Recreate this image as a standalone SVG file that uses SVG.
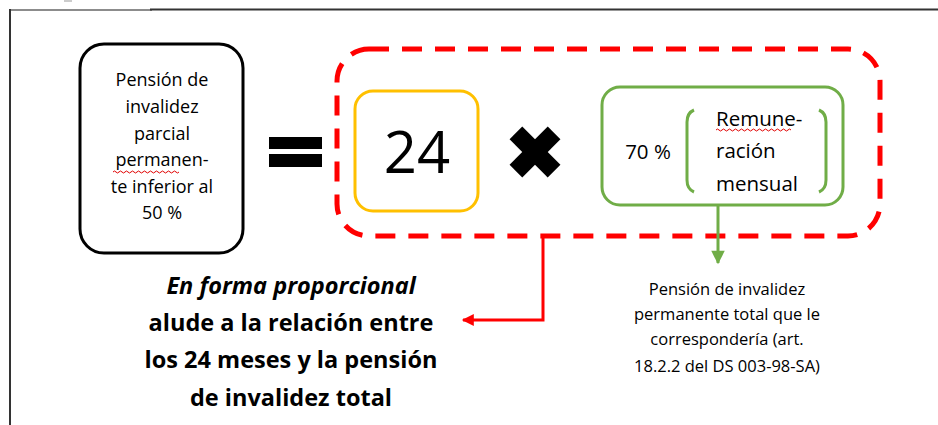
<svg xmlns="http://www.w3.org/2000/svg" width="938" height="425" viewBox="0 0 938 425">
<defs>
<style>
.t{font-family:"Open Sans","Liberation Sans",sans-serif;fill:#000;text-anchor:middle}
.s{font-size:18px}
.g{font-size:16.5px}
.b{font-size:23.5px;font-weight:bold}
.r{font-size:20.5px;text-anchor:start}
.sq{fill:none;stroke:#e00000;stroke-width:1}
</style>
<marker id="ar" viewBox="0 0 10 10" refX="9" refY="5" markerWidth="5" markerHeight="4" orient="auto" markerUnits="strokeWidth"><path d="M0,0L10,5L0,10z" fill="#ff0000"/></marker>
<marker id="ag" viewBox="0 0 10 10" refX="9" refY="5" markerWidth="5" markerHeight="4.5" orient="auto" markerUnits="strokeWidth"><path d="M0,0L10,5L0,10z" fill="#70ad47"/></marker>
</defs>
<rect width="938" height="425" fill="#fff"/>
<g id="frame">
<rect x="64" y="0" width="8" height="2" fill="#ccc"/>
<line x1="10" y1="10" x2="152" y2="10" stroke="#666" stroke-width="1.5"/>
<line x1="150" y1="9.5" x2="938" y2="9.5" stroke="#333" stroke-width="2"/>
<line x1="10" y1="9" x2="10" y2="425" stroke="#333" stroke-width="2"/>
</g>
<g id="pension-parcial">
<rect x="80" y="44" width="163" height="209" rx="24" fill="#fff" stroke="#000" stroke-width="3"/>
<text class="t s" x="162" y="86">Pensión de</text>
<text class="t s" x="162" y="113">invalidez</text>
<text class="t s" x="162" y="140">parcial</text>
<text class="t s" x="162" y="166">permanen-</text>
<path class="sq" d="M113,172 q1.5,-2 3,0 t3,0 t3,0 t3,0 t3,0 t3,0 t3,0 t3,0 t3,0 t3,0 t3,0 t3,0 t3,0 t3,0 t3,0 t3,0 t3,0 t3,0 t3,0 t3,0 t3,0 t3,0"/>
<text class="t s" x="162" y="193">te inferior al</text>
<text class="t s" x="162" y="219">50 %</text>
</g>
<g id="equals">
<rect x="269" y="137" width="53" height="12" fill="#000"/>
<rect x="269" y="154" width="53" height="13" fill="#000"/>
</g>
<g id="group-box">
<rect x="337" y="49" width="543" height="187" rx="32" fill="none" stroke="#ff0000" stroke-width="5" stroke-dasharray="20 13"/>
</g>
<g id="n24">
<rect x="355" y="91" width="123" height="120" rx="18" fill="#fff" stroke="#ffc000" stroke-width="3"/>
<text class="t" x="417" y="173" style="font-size:58px">24</text>
</g>
<g id="times">
<g transform="translate(535,152) rotate(45)">
<rect x="-27" y="-9" width="54" height="18" fill="#000"/>
<rect x="-9" y="-27" width="18" height="54" fill="#000"/>
</g>
</g>
<g id="remuneracion">
<rect x="602" y="87" width="241" height="118" rx="18" fill="#fff" stroke="#70ad47" stroke-width="3"/>
<text class="t" x="648" y="159" style="font-size:20.5px">70 %</text>
<path d="M694,110 Q687,113 687,122 L687,180 Q687,189 694,192" fill="none" stroke="#70ad47" stroke-width="3"/>
<path d="M819,110 Q826,113 826,122 L826,180 Q826,189 819,192" fill="none" stroke="#70ad47" stroke-width="3"/>
<text class="t r" x="716" y="126">Remune-</text>
<path class="sq" d="M716,130 q1.5,-2 3,0 t3,0 t3,0 t3,0 t3,0 t3,0 t3,0 t3,0 t3,0 t3,0 t3,0 t3,0 t3,0 t3,0 t3,0 t3,0 t3,0 t3,0 t3,0 t3,0 t3,0 t3,0 t3,0 t3,0 t3,0"/>
<text class="t r" x="716" y="158">ración</text>
<text class="t r" x="716" y="191">mensual</text>
</g>
<g id="connectors">
<path d="M543,236 L543,320 L463,320" fill="none" stroke="#ff0000" stroke-width="3" marker-end="url(#ar)"/>
<path d="M718,205 L718,263" fill="none" stroke="#70ad47" stroke-width="3" marker-end="url(#ag)"/>
</g>
<g id="nota-total">
<text class="t g" x="727" y="295">Pensión de invalidez</text>
<text class="t g" x="727" y="320">permanente total que le</text>
<text class="t g" x="727" y="345">correspondería (art.</text>
<text class="t g" x="727" y="372">18.2.2 del DS 003-98-SA)</text>
</g>
<g id="nota-proporcional">
<text class="t b" x="291" y="294" font-style="italic">En forma proporcional</text>
<text class="t b" x="291" y="331">alude a la relación entre</text>
<text class="t b" x="291" y="368">los 24 meses y la pensión</text>
<text class="t b" x="291" y="406">de invalidez total</text>
</g>
</svg>
